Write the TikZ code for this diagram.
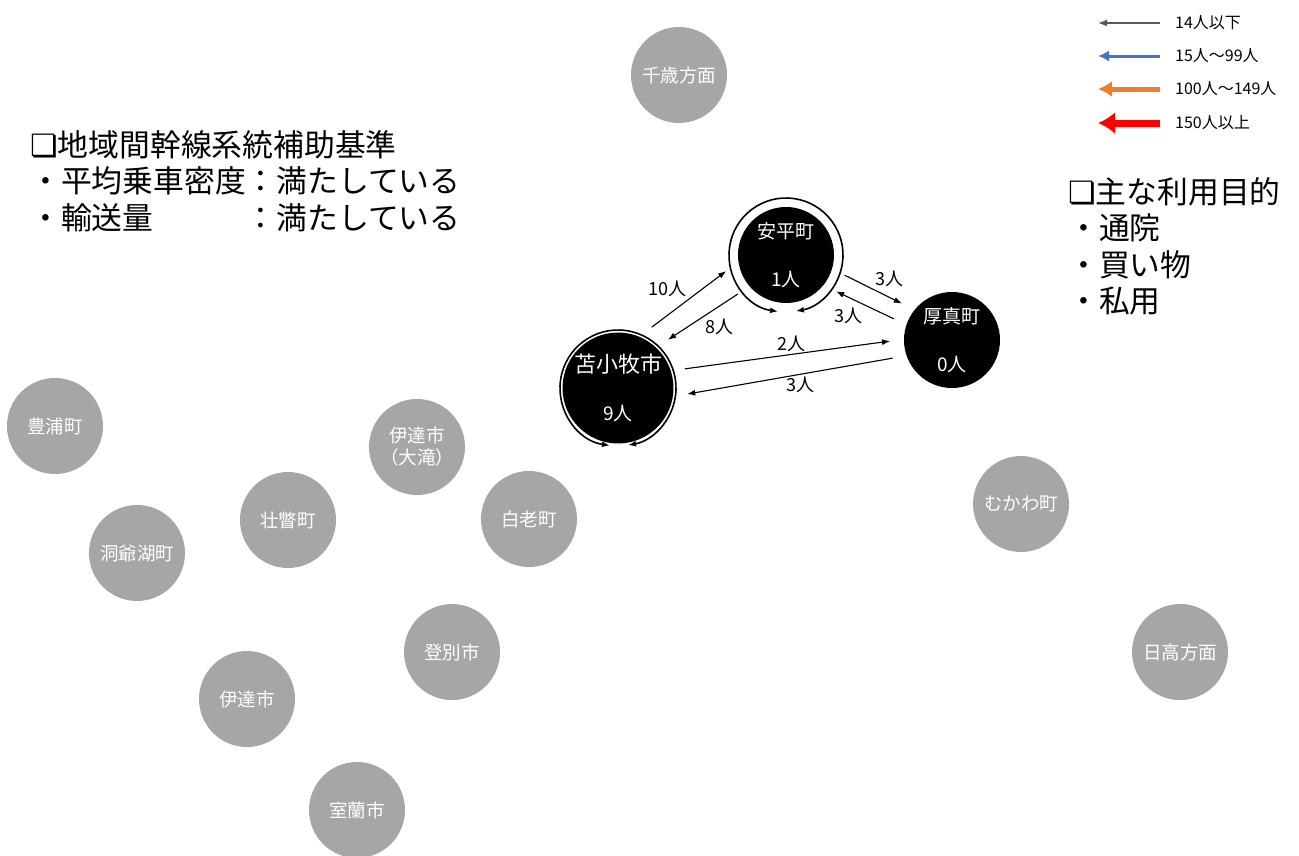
\documentclass[tikz,border=0pt]{standalone}
\usepackage{fontspec}
\setmainfont{Noto Sans CJK JP}
\newfontfamily\symfont{DejaVu Sans}
\usetikzlibrary{arrows.meta,positioning}
\definecolor{townGray}{HTML}{A6A6A6}
\definecolor{legGray}{HTML}{595959}
\definecolor{legBlue}{HTML}{4472C4}
\definecolor{legOrange}{HTML}{ED7D31}
\definecolor{legRed}{HTML}{FF0000}
\newcommand{\boxmark}{{\symfont ❏}}

\begin{document}
\begin{tikzpicture}[x=1pt,y=-1pt]
	\tikzstyle{town}
	  =[circle, fill=townGray, minimum size=96pt, inner sep=0pt,
	  text=white, align=center, font=\fontsize{18.5}{22}\selectfont]
	\tikzstyle{stop}
	  =[circle, fill=black, minimum size=96pt, inner sep=0pt, outer sep=14pt,
	  text=white, align=center, font=\fontsize{19}{48}\selectfont]
	\tikzstyle{flow}
	  =[-{Latex[length=8pt,width=6pt]}, line width=1.1pt]
	\tikzstyle{ring}
	  =[{Latex[length=8pt,width=6pt]}-{Latex[length=8pt,width=6pt]}, line width=1.6pt]
	\tikzstyle{count}
	  =[font=\fontsize{18}{20}\selectfont, inner sep=2pt]
	\tikzstyle{note}
	  =[anchor=north west, inner sep=0pt, text height=26pt, text depth=10pt,
	  font=\fontsize{30.8}{36}\selectfont]
	\tikzstyle{legtext}
	  =[anchor=west, inner sep=0pt, font=\fontsize{16}{18}\selectfont]

	\useasboundingbox (0,0) rectangle (1299,855);

	% surrounding towns
	\node[town] (Chitose) at (679,75) {千歳方面};
	\node[town] (Toyoura) at (55,426) {豊浦町};
	\node[town] (Otaki) at (417,447) {伊達市\\（大滝）};
	\node[town] (Sobetsu) at (288,520) {壮瞥町};
	\node[town] (Shiraoi) at (529,519) {白老町};
	\node[town] (Toya) at (137,553) {洞爺湖町};
	\node[town] (Mukawa) at (1021,504) {むかわ町};
	\node[town] (Hidaka) at (1180,652) {日高方面};
	\node[town] (Noboribetsu) at (452,652) {登別市};
	\node[town] (Date) at (247,699) {伊達市};
	\node[town] (Muroran) at (357,810) {室蘭市};

	% served towns
	\node[stop] (Abira) at (786,255) {安平町\\1人};
	\node[stop] (Toma) at (618,388) {\fontsize{22}{48}\selectfont 苫小牧市\\9人};
	\node[stop] (Atsuma) at (952,340) {厚真町\\0人};

	% trips inside a town
	\draw[ring] ([shift={(262:57pt)}]Abira.center)
	  arc[start angle=262, end angle=-80, radius=57pt];
	\draw[ring] ([shift={(262:58pt)}]Toma.center)
	  arc[start angle=262, end angle=-80, radius=58pt];

	% trips between towns
	\draw[flow] (Toma.61) -- node[count, above left] {10人} (Abira.195);
	\draw[flow] (Abira.219) -- node[count, below right] {8人} (Toma.44);
	\draw[flow] (Abira.-19) -- node[count, above right] {3人} (Atsuma.144);
	\draw[flow] (Atsuma.160) -- node[count, below left] {3人} (Abira.-36);
	\draw[flow] (Toma.16) -- node[count, above, pos=0.52] {2人} (Atsuma.181);
	\draw[flow] (Atsuma.197) -- node[count, below, pos=0.45] {3人} (Toma.-5);

	% legend
	\node[legtext] (L1) at (1175,23) {14人以下};
	\node[legtext] (L2) at (1175,56) {15人～99人};
	\node[legtext] (L3) at (1175,89) {100人～149人};
	\node[legtext] (L4) at (1175,123) {150人以上};
	\coordinate (K1) at (1098,23);
	\coordinate (K2) at (1098,56);
	\coordinate (K3) at (1098,89);
	\coordinate (K4) at (1098,123);
	\draw[legGray, line width=1.3pt, -{Latex[length=9pt,width=7pt]}]
	  ([xshift=-15pt]L1.west) -- (K1);
	\draw[legBlue, line width=3pt, -{Latex[length=11pt,width=11pt]}]
	  ([xshift=-15pt]L2.west) -- (K2);
	\draw[legOrange, line width=5pt, -{Latex[length=14pt,width=16pt]}]
	  ([xshift=-15pt]L3.west) -- (K3);
	\draw[legRed, line width=7pt, -{Latex[length=17pt,width=22pt]}]
	  ([xshift=-15pt]L4.west) -- (K4);

	% notes
	\node[note] (N1) at (30,130) {\boxmark 地域間幹線系統補助基準};
	\node[note] (N2)
	  [below=0pt of N1.south west, anchor=north west] {・平均乗車密度：満たしている};
	\node[note] (N3)
	  [below=0pt of N2.south west, anchor=north west] {・\makebox[6em][l]{輸送量}：満たしている};

	\node[note] (P1) at (1068,177) {\boxmark 主な利用目的};
	\node[note] (P2)
	  [below=0pt of P1.south west, anchor=north west] {・通院};
	\node[note] (P3)
	  [below=0pt of P2.south west, anchor=north west] {・買い物};
	\node[note] (P4)
	  [below=0pt of P3.south west, anchor=north west] {・私用};
\end{tikzpicture}
\end{document}
